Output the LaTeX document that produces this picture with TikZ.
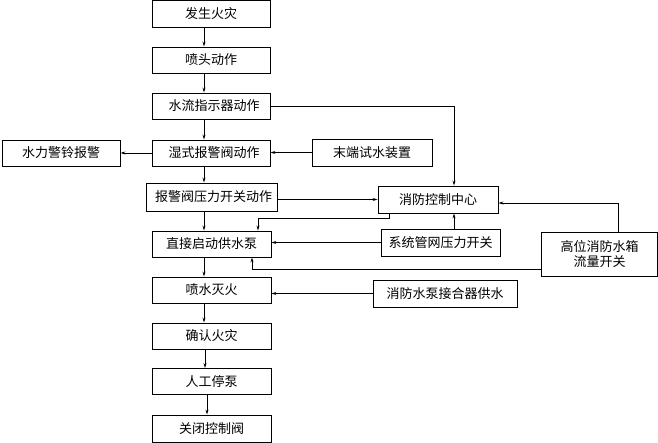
\documentclass[tikz,border=0pt]{standalone}
\usepackage{fontspec}
\setmainfont{Noto Sans CJK SC}
\usetikzlibrary{arrows.meta,calc}
\begin{document}
\begin{tikzpicture}[x=1pt,y=-1pt,
  box/.style={draw,line width=0.9pt,inner sep=0pt,minimum width=118pt,minimum height=26pt,font=\fontsize{13}{15.5}\selectfont,align=center},
  arr/.style={line width=0.8pt,-{Stealth[length=5pt,width=3pt]}},
  ln/.style={line width=0.8pt}]
\useasboundingbox (0,0) rectangle (658,443);
\node[box,minimum height=26.5pt] (n1) at (211,13.8) {发生火灾};
\node[box] (n2) at (211,60) {喷头动作};
\node[box] (n3) at (211,106) {\hspace{6pt}水流指示器动作};
\node[box] (n4) at (211,153) {\hspace{6pt}湿式报警阀动作};
\node[box,minimum width=131pt,minimum height=28pt] (n5) at (211.5,197) {\hspace{4pt}报警阀压力开关动作};
\node[box,minimum width=119pt] (n6) at (211.5,244) {直接启动供水泵};
\node[box,minimum width=119pt] (n7) at (211.5,290) {喷水灭火};
\node[box,minimum width=119pt] (n8) at (211.5,336) {确认火灾};
\node[box,minimum width=119pt] (n9) at (211.5,381.5) {人工停泵};
\node[box,minimum width=119pt,minimum height=27pt] (n10) at (211.5,428.5) {关闭控制阀};
\node[box] (bell) at (61,153) {水力警铃报警};
\node[box,minimum width=120pt,minimum height=27pt] (endt) at (372,152.5) {末端试水装置};
\node[box,minimum width=120pt,minimum height=27pt] (ctrl) at (438,199.5) {消防控制中心};
\node[box,minimum width=119pt,minimum height=27pt] (pres) at (440.5,242.5) {系统管网压力开关};
\node[box,minimum width=116pt,minimum height=44pt] (tank) at (599.5,254) {高位消防水箱\\流量开关};
\node[box,minimum width=144pt,minimum height=27pt] (conn) at (445,293.5) {消防水泵接合器供水};
\coordinate (cx) at (204,0);
% main chain
\draw[arr] (n1.south -| cx) -- (n2.north -| cx);
\draw[arr] (n2.south -| cx) -- (n3.north -| cx);
\draw[arr] (n3.south -| cx) -- (n4.north -| cx);
\draw[arr] (n4.south -| cx) -- (n5.north -| cx);
\draw[arr] (n5.south -| cx) -- (n6.north -| cx);
\draw[arr] (n6.south -| cx) -- (n7.north -| cx);
\draw[arr] (n7.south -| cx) -- (n8.north -| cx);
\draw[arr] ($(n8.south -| cx)+(1,0)$) -- ($(n9.north -| cx)+(1,0)$);
\draw[arr] ($(n9.south -| cx)+(3,0)$) -- ($(n10.north -| cx)+(3,0)$);
% side links
\draw[arr] (n4.west) -- (bell.east);
\draw[arr] (endt.west) -- (endt.west -| n4.east);
\coordinate (c1) at (454,106);
\draw[arr] (n3.east) -- (c1) -- (c1 |- ctrl.north);
\draw[arr] (n5.east |- ctrl.west) -- (ctrl.west);
\coordinate (c2) at (389,218);
\coordinate (c3) at (258,218);
\draw[arr] (c2 |- ctrl.south) -- (c2) -- (c3) -- (c3 |- n6.north);
\draw[arr] (c1 |- pres.north) -- (c1 |- ctrl.south);
\draw[arr] (pres.west) -- (pres.west -| n6.east);
\coordinate (c4) at (618,203);
\draw[arr] (c4 |- tank.north) -- (c4) -- (c4 -| ctrl.east);
\coordinate (c5) at (252,269);
\draw[arr] (c5 -| tank.west) -- (c5) -- (c5 |- n6.south);
\draw[arr] (conn.west) -- (conn.west -| n7.east);
\end{tikzpicture}
\end{document}
